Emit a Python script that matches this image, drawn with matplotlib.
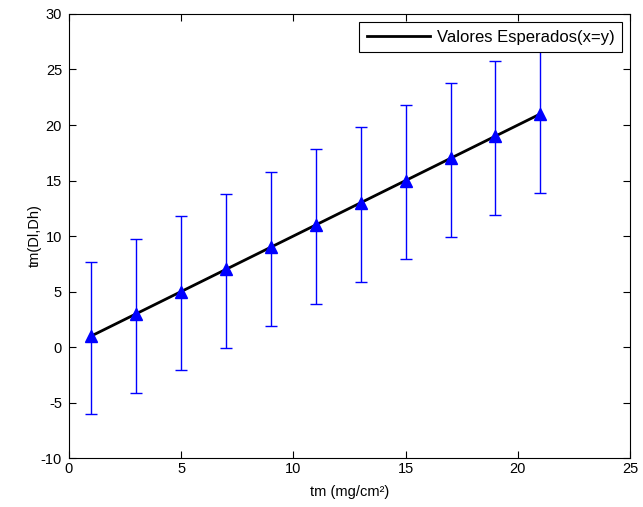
import matplotlib
matplotlib.use("Agg")
import matplotlib.pyplot as plt

plt.rcParams['font.family'] = ["Liberation Sans", "DejaVu Sans"]
plt.rcParams['axes.unicode_minus'] = False

x_vals = [1, 3, 5, 7, 9, 11, 13, 15, 17, 19, 21]
y_vals = [1, 3, 5, 7, 9, 11, 13, 15, 17, 19, 21]
err_low = [7.0, 7.1, 7.1, 7.1, 7.1, 7.1, 7.1, 7.1, 7.1, 7.1, 7.1]
err_up = [6.7, 6.7, 6.8, 6.8, 6.8, 6.8, 6.8, 6.8, 6.8, 6.8, 6.8]
line_x = [1, 21]
line_y = [1, 21]

fig = plt.figure(figsize=(6.43, 5.07), dpi=100)
ax = fig.add_axes([0.1073, 0.0966, 0.8727, 0.8758])

ax.plot(line_x, line_y, color='black', lw=2, label='Valores Esperados(x=y)', zorder=2)
ax.errorbar(x_vals, y_vals, yerr=[err_low, err_up], fmt='^', color='#0000ff',
            ecolor='#0000ff', elinewidth=1, capsize=4.5, capthick=1,
            markersize=9, zorder=3)

ax.set_xlim(0, 25)
ax.set_ylim(-10, 30)
ax.set_xticks(range(0, 26, 5))
ax.set_yticks(range(-10, 31, 5))
ax.tick_params(direction='in', top=True, right=True, labelsize=10.5, length=5, width=0.8)
ax.tick_params(axis='y', pad=5)
ax.tick_params(axis='x', pad=3)
for s in ax.spines.values():
    s.set_linewidth(0.8)

ax.set_xlabel('tm (mg/cm²)', fontsize=10.5, labelpad=6)
ax.set_ylabel('tm(Dl,Dh)', fontsize=10.5, labelpad=-1)

leg = ax.legend(loc='upper right', fontsize=12, fancybox=False, edgecolor='black',
                framealpha=1, borderaxespad=0.5, handlelength=3.8, borderpad=0.45,
                handletextpad=0.4)
leg.get_frame().set_linewidth(0.8)

fig.savefig('out.png', dpi=100)
